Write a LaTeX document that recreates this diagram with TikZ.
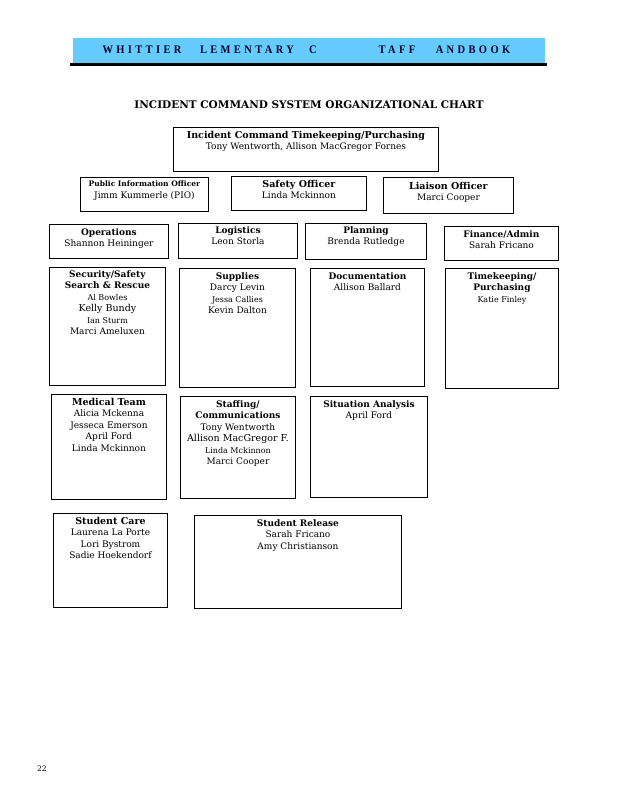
\documentclass[tikz,border=0pt]{standalone}
\usepackage{fontspec}
\setmainfont{DejaVu Serif}
\newfontfamily\headfont[LetterSpace=32]{Liberation Serif}
\usetikzlibrary{positioning}
\definecolor{bandblue}{HTML}{66CCFF}
\newcommand{\smname}{\fontsize{8}{11}\selectfont}
\newcommand{\lgname}{\fontsize{9.5}{11.5}\selectfont}

\begin{document}
\begin{tikzpicture}[
      x=1pt, y=-1pt,
      box/.style={draw,line width=0.9pt,anchor=north west,inner sep=0pt},
      txt/.style={anchor=north,align=center,inner sep=0pt,font=\fontsize{9}{11.5}\selectfont},
      hd/.style={font=\headfont\fontsize{10.5}{11}\selectfont\bfseries,text=black!85!blue,yscale=1.1}
    ]
      \useasboundingbox (0,0) rectangle (618,800);

      % Header band
      \fill[bandblue] (73,38) rectangle (545,63);
      \draw[line width=3pt] (70,64.5) -- (547,64.5);
      \node[hd] (h1) at (142,50) {WHITTIER};
      \node[hd] (h2) at (247,50) {LEMENTARY};
      \node[hd] (h3) at (313,50) {C};
      \node[hd] (h4) at (397,50) {TAFF};
      \node[hd] (h5) at (473,50) {ANDBOOK};

      % Title
      \node[font=\fontsize{10.5}{12}\selectfont\bfseries] (title) at (309,105) {INCIDENT COMMAND SYSTEM ORGANIZATIONAL CHART};

      % Command
      \node[box,minimum width=265,minimum height=44] (ic) at (173,127) {};
      \node[txt,below=4pt of ic.north] (icT) {\textbf{\lgname Incident Command Timekeeping/Purchasing}\\Tony Wentworth, Allison MacGregor Fornes};

      % Officers
      \node[box,minimum width=128,minimum height=34] (pio) at (80,177) {};
      \node[txt,below=4pt of pio.north] (pioT) {\textbf{\fontsize{7.5}{10}\selectfont Public Information Officer}\\Jimm Kummerle (PIO)};
      \node[box,minimum width=135,minimum height=34] (safe) at (231,176) {};
      \node[txt,below=4pt of safe.north] (safeT) {\textbf{\lgname Safety Officer}\\Linda Mckinnon};
      \node[box,minimum width=130,minimum height=36] (liai) at (383,177) {};
      \node[txt,below=5pt of liai.north] (liaiT) {\textbf{\lgname Liaison Officer}\\Marci Cooper};

      % Sections
      \node[box,minimum width=119,minimum height=34] (ops) at (49,224) {};
      \node[txt,below=4pt of ops.north] (opsT) {\textbf{Operations}\\Shannon Heininger};
      \node[box,minimum width=119,minimum height=35] (log) at (178,223) {};
      \node[txt,below=3pt of log.north] (logT) {\textbf{Logistics}\\Leon Storla};
      \node[box,minimum width=121,minimum height=36] (plan) at (305,223) {};
      \node[txt,below=3pt of plan.north] (planT) {\textbf{Planning}\\Brenda Rutledge};
      \node[box,minimum width=114,minimum height=34] (fin) at (444,226) {};
      \node[txt,below=4pt of fin.north] (finT) {\textbf{Finance/Admin}\\Sarah Fricano};

      % Units, first row
      \node[box,minimum width=116,minimum height=118] (sec) at (49,267) {};
      \node[txt,below=3pt of sec.north] (secT) {\textbf{Security/Safety}\\\textbf{Search \& Rescue}\\{\smname Al Bowles}\\{\lgname Kelly Bundy}\\{\smname Ian Sturm}\\Marci Ameluxen};
      \node[box,minimum width=116,minimum height=119] (sup) at (179,268) {};
      \node[txt,below=4pt of sup.north] (supT) {\textbf{Supplies}\\Darcy Levin\\{\smname Jessa Callies}\\Kevin Dalton};
      \node[box,minimum width=114,minimum height=118] (doc) at (310,268) {};
      \node[txt,below=4pt of doc.north] (docT) {\textbf{Documentation}\\Allison Ballard};
      \node[box,minimum width=113,minimum height=120] (tk) at (445,268) {};
      \node[txt,below=4pt of tk.north] (tkT) {\textbf{Timekeeping/}\\\textbf{Purchasing}\\{\smname Katie Finley}};

      % Units, second row
      \node[box,minimum width=115,minimum height=105] (med) at (51,394) {};
      \node[txt,below=4pt of med.north] (medT) {\textbf{\lgname Medical Team}\\Alicia Mckenna\\Jesseca Emerson\\April Ford\\Linda Mckinnon};
      \node[box,minimum width=115,minimum height=102] (staff) at (180,396) {};
      \node[txt,below=4pt of staff.north] (staffT) {\textbf{Staffing/}\\\textbf{Communications}\\Tony Wentworth\\{\lgname Allison MacGregor F.}\\{\smname Linda Mckinnon}\\Marci Cooper};
      \node[box,minimum width=117,minimum height=101] (sit) at (310,396) {};
      \node[txt,below=4pt of sit.north] (sitT) {\textbf{Situation Analysis}\\April Ford};

      % Units, third row
      \node[box,minimum width=114,minimum height=94] (care) at (53,513) {};
      \node[txt,below=4pt of care.north] (careT) {\textbf{\lgname Student Care}\\Laurena La Porte\\Lori Bystrom\\Sadie Hoekendorf};
      \node[box,minimum width=207,minimum height=93] (rel) at (194,515) {};
      \node[txt,below=4pt of rel.north] (relT) {\textbf{Student Release}\\Sarah Fricano\\Amy Christianson};

      % Page number
      \node[font=\fontsize{7.5}{8}\selectfont] (page) at (42,769) {22};
    \end{tikzpicture}
\end{document}
